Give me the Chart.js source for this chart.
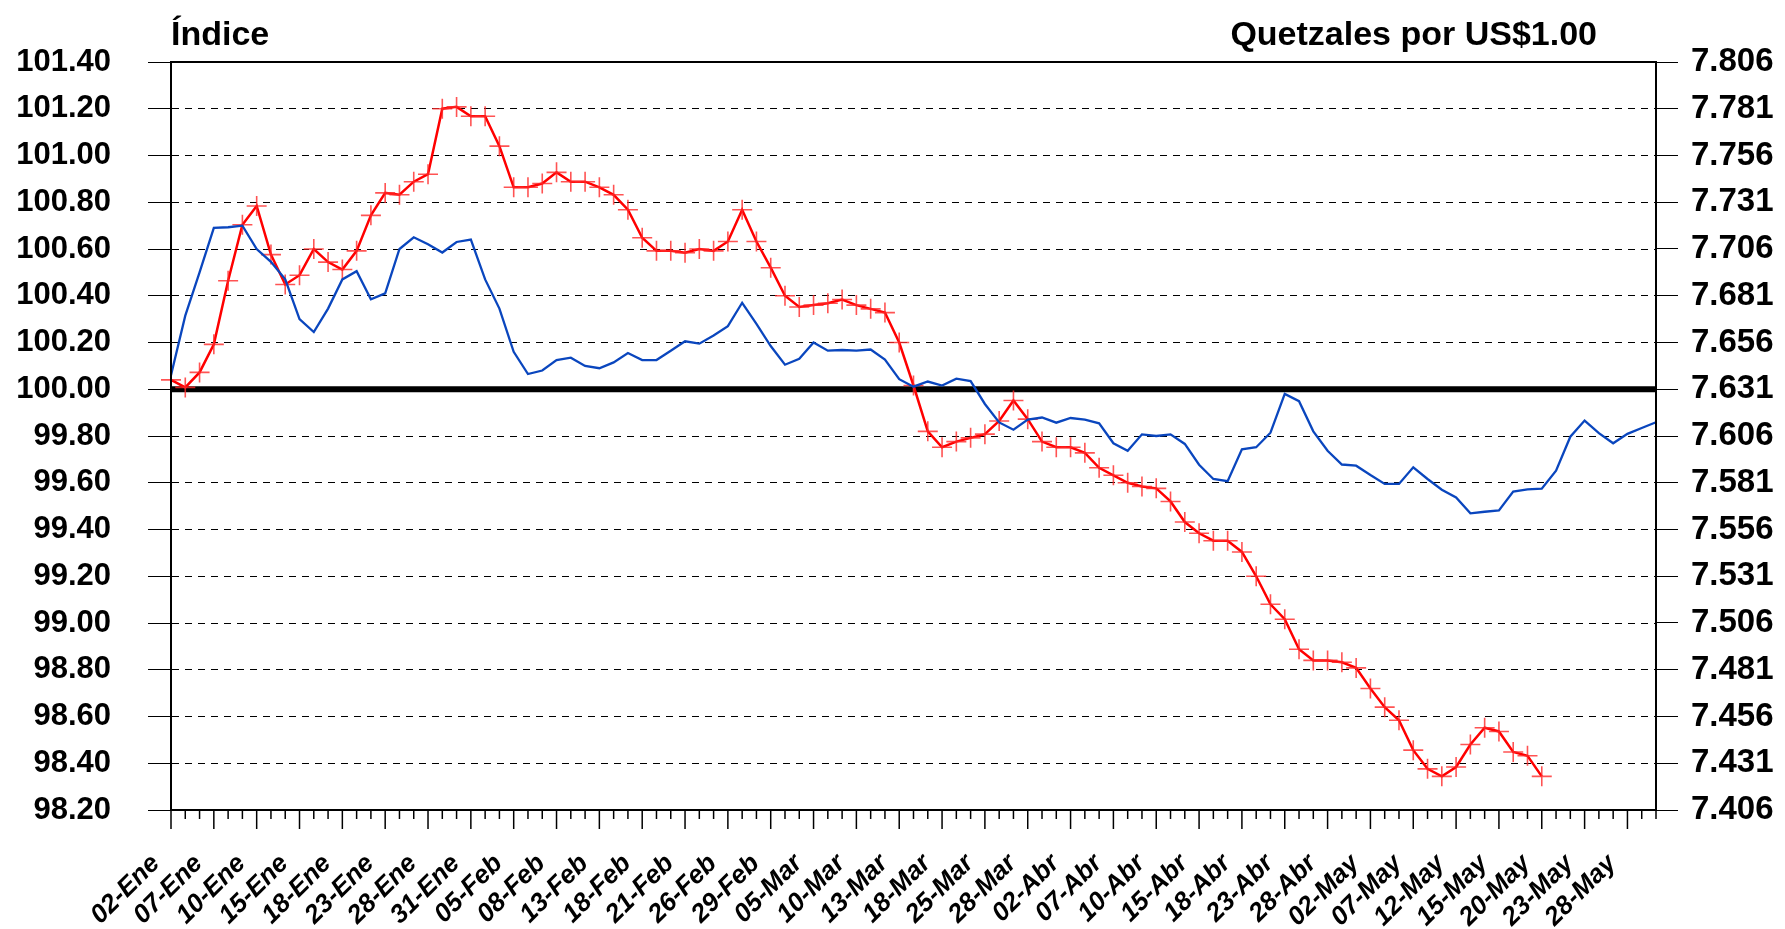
<!DOCTYPE html>
<html>
<head>
<meta charset="utf-8">
<script src="https://cdn.jsdelivr.net/npm/chart.js@4.4.1/dist/chart.umd.min.js"></script>
<style>
  body { margin: 0; background: #fff; }
  canvas { display: block; }
</style>
</head>
<body>
<canvas id="grafica" width="1785" height="929"></canvas>
<script>
// dias habiles 2008
const fechas = [
  '02-Ene','03-Ene','04-Ene','07-Ene','08-Ene','09-Ene','10-Ene','11-Ene','14-Ene','15-Ene',
  '16-Ene','17-Ene','18-Ene','21-Ene','22-Ene','23-Ene','24-Ene','25-Ene','28-Ene','29-Ene',
  '30-Ene','31-Ene','01-Feb','04-Feb','05-Feb','06-Feb','07-Feb','08-Feb','11-Feb','12-Feb',
  '13-Feb','14-Feb','15-Feb','18-Feb','19-Feb','20-Feb','21-Feb','22-Feb','25-Feb','26-Feb',
  '27-Feb','28-Feb','29-Feb','03-Mar','04-Mar','05-Mar','06-Mar','07-Mar','10-Mar','11-Mar',
  '12-Mar','13-Mar','14-Mar','17-Mar','18-Mar','19-Mar','24-Mar','25-Mar','26-Mar','27-Mar',
  '28-Mar','31-Mar','01-Abr','02-Abr','03-Abr','04-Abr','07-Abr','08-Abr','09-Abr','10-Abr',
  '11-Abr','14-Abr','15-Abr','16-Abr','17-Abr','18-Abr','21-Abr','22-Abr','23-Abr','24-Abr',
  '25-Abr','28-Abr','29-Abr','30-Abr','02-May','05-May','06-May','07-May','08-May','09-May',
  '12-May','13-May','14-May','15-May','16-May','19-May','20-May','21-May','22-May','23-May',
  '26-May','27-May','28-May','29-May','30-May'
];

// indice (eje izquierdo)
const indice = [
  100.06, 100.315, 100.50, 100.69, 100.693, 100.70, 100.60, 100.545, 100.47, 100.30,
  100.245, 100.345, 100.47, 100.505, 100.385, 100.41, 100.60, 100.65, 100.62, 100.585,
  100.63, 100.64, 100.47, 100.345, 100.16, 100.065, 100.08, 100.125, 100.135, 100.10,
  100.09, 100.115, 100.155, 100.125, 100.125, 100.165, 100.205, 100.195, 100.23, 100.27,
  100.37, 100.28, 100.185, 100.105, 100.13, 100.20, 100.165, 100.168, 100.165, 100.17,
  100.127, 100.043, 100.011, 100.033, 100.016, 100.045, 100.035, 99.937, 99.858, 99.827,
  99.87, 99.879, 99.857, 99.877, 99.87, 99.854, 99.769, 99.737, 99.807, 99.80,
  99.807, 99.766, 99.677, 99.616, 99.607, 99.743, 99.752, 99.814, 99.98, 99.949,
  99.82, 99.737, 99.678, 99.673, 99.633, 99.595, 99.595, 99.666, 99.616, 99.57,
  99.537, 99.469, 99.476, 99.482, 99.562, 99.572, 99.575, 99.652, 99.797, 99.866,
  99.812, 99.769, 99.809, 99.834, 99.859
];

// tipo de cambio, quetzales por US$1.00 (eje derecho)
const tipoCambio = [
  7.636, 7.632, 7.640, 7.655, 7.689, 7.719, 7.729, 7.703, 7.687, 7.692,
  7.706, 7.699, 7.695, 7.705, 7.724, 7.736, 7.735, 7.742, 7.746, 7.781,
  7.782, 7.777, 7.777, 7.761, 7.739, 7.739, 7.741, 7.747, 7.742, 7.742,
  7.739, 7.735, 7.727, 7.712, 7.705, 7.705, 7.704, 7.706, 7.705, 7.710,
  7.727, 7.710, 7.696, 7.681, 7.675, 7.676, 7.677, 7.679, 7.676, 7.674,
  7.672, 7.656, 7.633, 7.6085, 7.600, 7.603, 7.605, 7.607, 7.614, 7.625,
  7.615, 7.603, 7.600, 7.600, 7.597, 7.589, 7.585, 7.581, 7.579, 7.578,
  7.571, 7.560, 7.554, 7.550, 7.550, 7.544, 7.531, 7.516, 7.508, 7.492,
  7.486, 7.486, 7.485, 7.482, 7.471, 7.461, 7.454, 7.438, 7.428, 7.424,
  7.429, 7.441, 7.450, 7.448, 7.437, 7.435, 7.424
];

const ticksIzq = [98.20, 98.40, 98.60, 98.80, 99.00, 99.20, 99.40, 99.60, 99.80,
  100.00, 100.20, 100.40, 100.60, 100.80, 101.00, 101.20, 101.40];
const ticksDer = [7.406, 7.431, 7.456, 7.481, 7.506, 7.531, 7.556, 7.581, 7.606,
  7.631, 7.656, 7.681, 7.706, 7.731, 7.756, 7.781, 7.806];

const lineaBase = 100;
const fuente = 'Arial, "Liberation Sans", sans-serif';

// linea gruesa en 100, marco y marcas del eje x
const extras = {
  id: 'extras',
  beforeDatasetsDraw(chart) {
    const ctx = chart.ctx;
    const area = chart.chartArea;
    const y = chart.scales.y.getPixelForValue(lineaBase);
    ctx.save();
    ctx.strokeStyle = '#000';
    ctx.lineWidth = 6;
    ctx.beginPath();
    ctx.moveTo(area.left, y);
    ctx.lineTo(area.right, y);
    ctx.stroke();
    ctx.restore();
  },
  afterDraw(chart) {
    const ctx = chart.ctx;
    const area = chart.chartArea;
    const xs = chart.scales.x;
    ctx.save();
    ctx.strokeStyle = '#000';
    ctx.lineWidth = 2;
    ctx.strokeRect(area.left, area.top, area.right - area.left, area.bottom - area.top);
    ctx.lineWidth = 1.5;
    for (let i = 0; i < fechas.length; i++) {
      const x = xs.getPixelForValue(i);
      ctx.beginPath();
      ctx.moveTo(x, area.bottom);
      ctx.lineTo(x, area.bottom + (i % 3 === 0 ? 19 : 9));
      ctx.stroke();
    }
    ctx.fillStyle = '#000';
    ctx.font = 'bold 34px ' + fuente;
    ctx.textBaseline = 'alphabetic';
    ctx.textAlign = 'left';
    ctx.fillText('Índice', area.left, 45);
    ctx.textAlign = 'right';
    ctx.fillText('Quetzales por US$1.00', 1597, 45);
    ctx.restore();
  }
};

new Chart(document.getElementById('grafica'), {
  type: 'line',
  data: {
    labels: fechas,
    datasets: [{
      label: 'Índice',
      data: indice,
      yAxisID: 'y',
      borderColor: '#0a46be',
      borderWidth: 2.3,
      pointRadius: 0,
      tension: 0
    }, {
      label: 'Quetzales por US$1.00',
      data: tipoCambio,
      yAxisID: 'y1',
      borderColor: '#ff0000',
      borderWidth: 2.5,
      pointStyle: 'cross',
      pointRadius: 10,
      pointBorderWidth: 1.6,
      pointBorderColor: 'rgba(255, 40, 40, 0.8)',
      tension: 0
    }]
  },
  options: {
    responsive: false,
    animation: false,
    layout: { padding: { top: 62, left: 0, right: 0, bottom: 0 } },
    plugins: {
      legend: { display: false },
      tooltip: { enabled: false }
    },
    scales: {
      x: {
        offset: false,
        grid: { display: false },
        border: { display: true, color: '#000', width: 2 },
        ticks: {
          autoSkip: false,
          maxRotation: 45,
          minRotation: 45,
          padding: 15,
          color: '#000',
          font: { family: fuente, size: 26, weight: 'bold', style: 'italic' },
          // los espacios al final corren la etiqueta hacia abajo y a la izquierda
          callback: function (v, i) { return i % 3 === 0 ? fechas[i] + '   ' : ''; }
        },
        afterFit: function (s) { s.height = 119; }
      },
      y: {
        position: 'left',
        min: 98.2,
        max: 101.4,
        afterBuildTicks: function (s) { s.ticks = ticksIzq.map(v => ({ value: v })); },
        grid: {
          color: '#000',
          lineWidth: 1,
          tickLength: 23,
          tickColor: '#000'
        },
        border: { display: true, color: '#000', width: 2, dash: [7, 6] },
        ticks: {
          padding: 37,
          color: '#000',
          font: { family: fuente, size: 31, weight: 'bold' },
          callback: v => v.toFixed(2)
        },
        afterFit: function (s) { s.width = 171; }
      },
      y1: {
        position: 'right',
        min: 7.406,
        max: 7.806,
        afterBuildTicks: function (s) { s.ticks = ticksDer.map(v => ({ value: v })); },
        grid: {
          drawOnChartArea: false,
          tickLength: 22,
          tickColor: '#000'
        },
        border: { display: true, color: '#000', width: 2 },
        ticks: {
          padding: 13,
          color: '#000',
          font: { family: fuente, size: 33, weight: 'bold' },
          callback: v => v.toFixed(3)
        },
        afterFit: function (s) { s.width = 129; }
      }
    }
  },
  plugins: [extras]
});
</script>
</body>
</html>
